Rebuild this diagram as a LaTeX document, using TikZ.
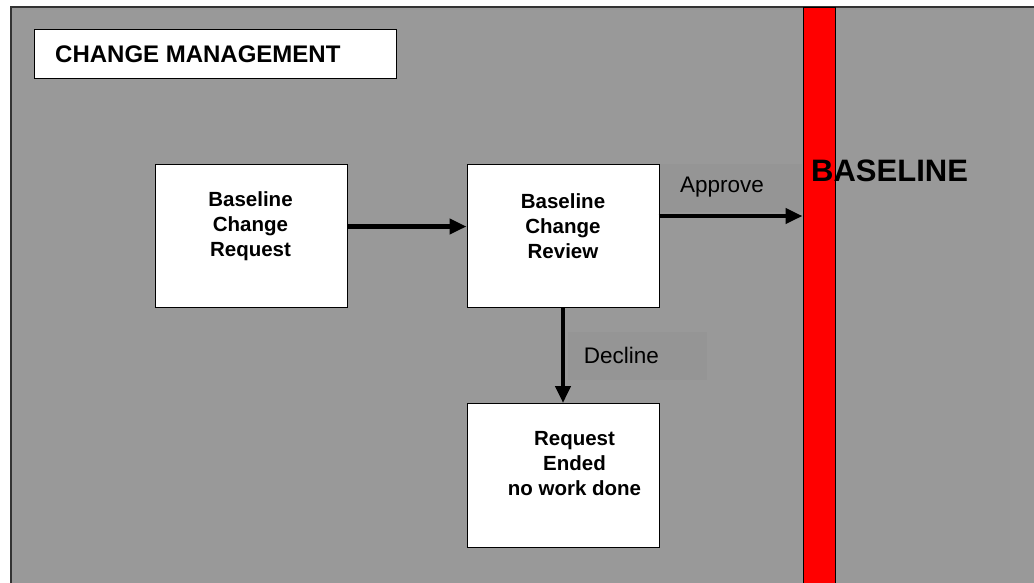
\documentclass[tikz,border=0pt]{standalone}
\usepackage{fontspec}
\setmainfont{Liberation Sans}
\usetikzlibrary{arrows.meta}
\definecolor{bggray}{HTML}{999999}
\definecolor{lblgray}{HTML}{959595}
\definecolor{edge}{HTML}{333333}
\tikzset{
  px/.style={x=1pt,y=-1pt},
  stepbox/.style={draw=black,line width=1pt,fill=white},
  boxtext/.style={font=\fontsize{20.5}{25}\selectfont\bfseries,align=center,inner sep=0pt},
  lbltext/.style={font=\fontsize{22.5}{26}\selectfont,inner sep=0pt},
  flow/.style={line width=4.5pt,-{Triangle[length=17pt,width=15pt]}},
}
\begin{document}
\begin{tikzpicture}[px]
\useasboundingbox (0,0) rectangle (1034,582);
% background
\fill[white] (0,0) rectangle (1034,582);
\draw[fill=bggray,draw=edge,line width=1.2pt] (11,7) rectangle (1040,590);
% label backgrounds
\fill[lblgray] (658,164) rectangle (802,212);
\fill[lblgray] (568,332) rectangle (707,380);
% title
\node[draw=black,line width=1.2pt,fill=white,minimum width=362pt,minimum height=49pt,anchor=north west,inner sep=0pt] (title) at (34,29) {};
\node[font=\fontsize{24}{28}\selectfont\bfseries,anchor=west,inner sep=0pt] (titletext) at (55,54) {CHANGE MANAGEMENT};
% baseline bar
\node[draw=black,line width=1.2pt,fill=red,minimum width=32pt,minimum height=590pt,anchor=north west,inner sep=0pt] (bar) at (802.5,7) {};
\node[font=\fontsize{31}{36}\selectfont\bfseries,anchor=west,inner sep=0pt] (baseline) at (811,171) {BASELINE};
% boxes
\node[stepbox,minimum width=192pt,minimum height=143pt,anchor=north west,inner sep=0pt] (req) at (154.5,163.5) {};
\node[stepbox,minimum width=192pt,minimum height=143pt,anchor=north west,inner sep=0pt] (rev) at (466.5,163.5) {};
\node[stepbox,minimum width=192pt,minimum height=144pt,anchor=north west,inner sep=0pt] (end) at (467,403) {};
\node[boxtext] (reqtext) at (250.5,226) {Baseline\\Change\\Request};
\node[boxtext] (revtext) at (563,226) {Baseline\\Change\\Review};
\node[boxtext] (endtext) at (574.5,464) {Request\\Ended\\no work done};
% labels
\node[lbltext] (approve) at (722,187) {Approve};
\node[lbltext] (decline) at (621.5,355) {Decline};
% connectors
\coordinate (a1) at (346.5,226.5);
\coordinate (a2) at (466.5,226.5);
\draw[flow] (req.east |- a1) -- (rev.west |- a2);
\coordinate (b1) at (658.5,216);
\draw[flow] (b1) -- (bar.west |- b1);
\coordinate (c1) at (563,307);
\draw[flow] (rev.south -| c1) -- (end.north -| c1);
\end{tikzpicture}
\end{document}
